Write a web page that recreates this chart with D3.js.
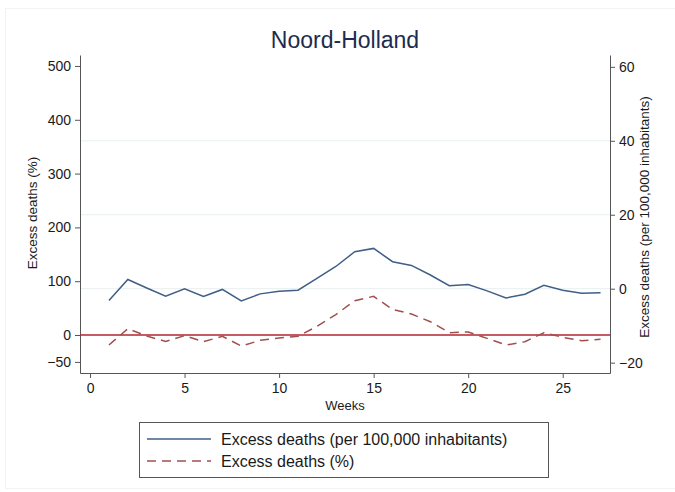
<!DOCTYPE html>
<html><head><meta charset="utf-8">
<script src="https://cdn.jsdelivr.net/npm/d3@7"></script>
<style>
html,body{margin:0;padding:0;background:#fff;}
text{font-family:"Liberation Sans",Arial,Helvetica,sans-serif;fill:#1a1a1a;}
</style></head><body>
<svg id="c" width="675" height="492"></svg>
<script>
const weeks = [1,2,3,4,5,6,7,8,9,10,11,12,13,14,15,16,17,18,19,20,21,22,23,24,25,26,27];
const per100k = [-3.2,2.5,0.2,-2.0,0.0,-2.1,-0.2,-3.3,-1.4,-0.7,-0.4,2.8,6.0,10.0,10.9,7.3,6.3,3.7,0.8,1.1,-0.6,-2.5,-1.5,0.9,-0.4,-1.2,-1.1];
const pct = [-18.6,11.8,-2.0,-11.8,-1.2,-12.4,-2.5,-20.4,-9.9,-5.6,-2.5,16,38,63.8,71.9,47.7,39,24.7,4.3,5.6,-6.2,-18.6,-12.4,4.3,-4.3,-10.5,-8.0];
const xTicks = [0,5,10,15,20,25];
const yLeftTicks = [-50,0,100,200,300,400,500];
const yRightTicks = [-20,0,20,40,60];
const gridTicks = [0,20,40];
const title = "Noord-Holland";
const seriesNames = ["Excess deaths (per 100,000 inhabitants)","Excess deaths (%)"];

const svg = d3.select("#c");
const L=80, R=610, T=55, B=373;

// faint outer frame
svg.append("rect").attr("x",5.5).attr("y",8.5).attr("width",680).attr("height",480)
  .attr("fill","none").attr("stroke","#f3f3f3");

const x = d3.scaleLinear().domain([-0.53,27.5]).range([L,R]);
const yL = d3.scaleLinear().domain([-70.6,520.4]).range([B,T]);
const yR = d3.scaleLinear().domain([-22.8,63.2]).range([B,T]);

// gridlines
svg.append("g").selectAll("line").data(gridTicks).join("line")
  .attr("x1",L).attr("x2",R).attr("y1",d=>yR(d)).attr("y2",d=>yR(d))
  .attr("stroke","#e8efef").attr("stroke-width",1);

function styleAxis(g){
  g.select(".domain").attr("stroke","#555").attr("stroke-width",1);
  g.selectAll(".tick line").attr("stroke","#555");
  g.selectAll(".tick text").style("font-size","14px").attr("fill","#1a1a1a")
    .style("font-family","'Liberation Sans',Arial,sans-serif");
}

const gx = svg.append("g").attr("transform",`translate(0,${B})`)
  .call(d3.axisBottom(x).tickValues(xTicks).tickSize(5).tickSizeOuter(0).tickPadding(5));
styleAxis(gx);
const gl = svg.append("g").attr("transform",`translate(${L},0)`)
  .call(d3.axisLeft(yL).tickValues(yLeftTicks).tickSize(5).tickSizeOuter(0).tickPadding(4));
styleAxis(gl);
const gr = svg.append("g").attr("transform",`translate(${R},0)`)
  .call(d3.axisRight(yR).tickValues(yRightTicks).tickSize(5).tickSizeOuter(0).tickPadding(4));
styleAxis(gr);

// zero reference line (left axis)
svg.append("line").attr("x1",L).attr("x2",R).attr("y1",yL(0)).attr("y2",yL(0))
  .attr("stroke","#b3242f").attr("stroke-width",1.3);

const lineB = d3.line().x((d,i)=>x(weeks[i])).y(d=>yR(d));
const lineP = d3.line().x((d,i)=>x(weeks[i])).y(d=>yL(d));
svg.append("path").datum(per100k).attr("d",lineB).attr("fill","none")
  .attr("stroke","#3f5f86").attr("stroke-width",1.5);
svg.append("path").datum(pct).attr("d",lineP).attr("fill","none")
  .attr("stroke","#a0504e").attr("stroke-width",1.5).attr("stroke-dasharray","9,6");

// titles
svg.append("text").attr("x",345).attr("y",48).attr("text-anchor","middle")
  .style("font-size","23px").style("fill","#1d2b4f").text(title);
svg.append("text").attr("x",345).attr("y",410).attr("text-anchor","middle")
  .style("font-size","13px").text("Weeks");
svg.append("text").attr("transform","translate(37,213) rotate(-90)").attr("text-anchor","middle")
  .style("font-size","13.5px").text("Excess deaths (%)");
svg.append("text").attr("transform","translate(649,217) rotate(-90)").attr("text-anchor","middle")
  .style("font-size","13.5px").text("Excess deaths (per 100,000 inhabitants)");

// legend
const lg = svg.append("g");
lg.append("rect").attr("x",139.5).attr("y",422.5).attr("width",409).attr("height",55)
  .attr("fill","#fff").attr("stroke","#555").attr("stroke-width",1);
const rows=[{y:439,c:"#3f5f86",dash:null,t:seriesNames[0]},{y:461,c:"#a0504e",dash:"9,6",t:seriesNames[1]}];
rows.forEach(r=>{
  lg.append("line").attr("x1",147).attr("x2",211).attr("y1",r.y).attr("y2",r.y)
    .attr("stroke",r.c).attr("stroke-width",1.5).attr("stroke-dasharray",r.dash);
  lg.append("text").attr("x",221).attr("y",r.y+5.5).style("font-size","16px").text(r.t);
});
</script>
</body></html>
